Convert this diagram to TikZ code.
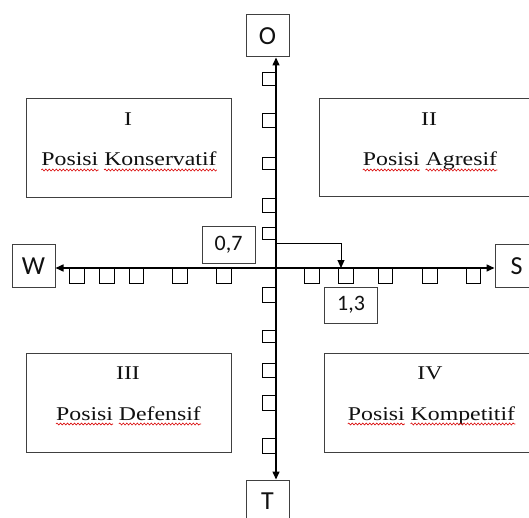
\documentclass[tikz,border=0pt]{standalone}
\usepackage{fontspec}
\usetikzlibrary{arrows.meta,decorations.pathmorphing,calc}
\newfontfamily\qfont[FakeStretch=1.22]{Liberation Serif}
\newfontfamily\lfont{Carlito}
\definecolor{bord}{HTML}{404040}
\definecolor{txt}{HTML}{111111}
\begin{document}
\begin{tikzpicture}[x=1pt,y=-1pt,
 lbl/.style={draw=bord,line width=1pt,inner sep=0pt,minimum width=43pt,minimum height=42pt,font=\lfont\fontsize{26}{26}\selectfont,text=txt},
 numbox/.style={draw=bord,line width=1pt,inner sep=0pt,minimum width=53pt,minimum height=36pt,font=\lfont\fontsize{22}{22}\selectfont,text=txt},
 quad/.style={draw=bord,line width=1pt,inner sep=0pt},
 qtext/.style={font=\qfont\fontsize{19.5}{22}\selectfont,inner sep=0pt,text=txt},
 axis/.style={line width=1.5pt,-{Triangle[length=8pt,width=7pt]}},
 tickbox/.style={draw=black,line width=0.9pt},
 wave/.style={red!85!black,line width=0.6pt,decorate,decoration={snake,amplitude=1pt,segment length=3.5pt}}]
\useasboundingbox (0,0) rectangle (529,518);
\fill[white] (0,0) rectangle (529,518);

% quadrant boxes
\node[quad,minimum width=205pt,minimum height=99pt] (q1) at (128.5,148.5) {};
\node[quad,minimum width=222pt,minimum height=98pt] (q2) at (430,148) {};
\node[quad,minimum width=205pt,minimum height=99pt] (q3) at (128.5,402.5) {};
\node[quad,minimum width=214pt,minimum height=99pt] (q4) at (431,402.5) {};

% numerals
\node[qtext,anchor=base] (n1) at (128,126) {I};
\node[qtext,anchor=base] (n2) at (429,126) {II};
\node[qtext,anchor=base] (n3) at (128,379) {III};
\node[qtext,anchor=base] (n4) at (430,379) {IV};

% position texts
\foreach \i/\x/\y/\a/\b in {1/129/166/Posisi/Konservatif,2/430/166/Posisi/Agresif,3/128.5/420/Posisi/Defensif,4/431.5/420/Posisi/Kompetitif}{
  \node[qtext,anchor=base] (t\i) at (\x,\y) {\phantom{\a\ \b}};
  \node[qtext,anchor=base west] (t\i a) at (t\i.base west) {\a};
  \node[qtext,anchor=base east] (t\i b) at (t\i.base east) {\b};
  \draw[wave] ([yshift=-4pt]t\i a.base west) -- ([yshift=-4pt]t\i a.base east);
  \draw[wave] ([yshift=-4pt]t\i b.base west) -- ([yshift=-4pt]t\i b.base east);
}

% axis end labels
\node[lbl] (O) at (267.5,36) {O};
\node[lbl] (T) at (267.5,501) {T};
\node[lbl] (W) at (33.5,266) {W};
\node[lbl] (S) at (516.5,266) {S};

% value boxes
\node[numbox] (v07) at (228.5,245) {0,7};
\node[numbox] (v13) at (351,305) {1,3};

% ticks
\foreach \a/\b in {72/85,113/127,157/169,198/212,227/239,287/302,330/342,363/377,395/410,438/453}
  \draw[tickbox] (262,\a) rectangle (276,\b);
\foreach \a/\b in {69/84,99/114,129/143,172/187,216/231,304/319,338/353,378/392,422/437,466/480}
  \draw[tickbox] (\a,268) rectangle (\b,283);

% axes
\coordinate (c) at (276,268);
\draw[axis] (c) -- (c |- O.south);
\draw[axis] (c) -- (c |- T.north);
\draw[axis] (c) -- (c -| W.east);
\draw[axis] (c) -- (c -| S.west);

% pointer
\coordinate (p0) at (276,244);
\coordinate (p1) at (341,268);
\draw[line width=1pt,-{Triangle[length=8pt,width=7pt]}] (p0) -| (p1);
\end{tikzpicture}
\end{document}
